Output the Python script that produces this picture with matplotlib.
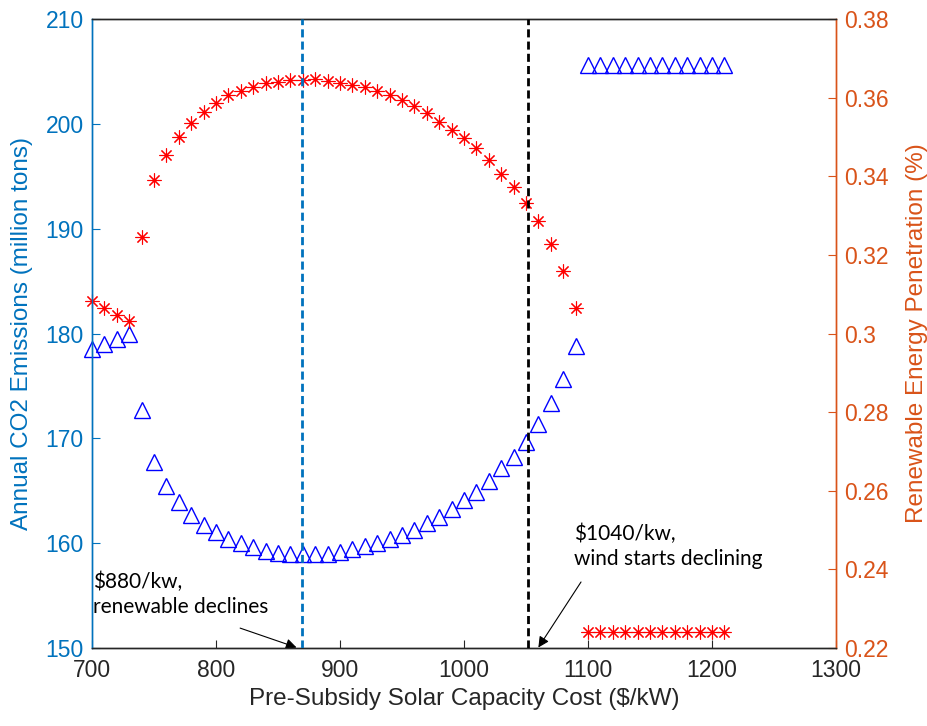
import matplotlib
matplotlib.use("Agg")
import matplotlib.pyplot as plt
from matplotlib.ticker import FuncFormatter

# ---- data ----
cost = [700, 710, 720, 730, 740, 750, 760, 770, 780, 790,
        800, 810, 820, 830, 840, 850, 860, 870, 880, 890,
        900, 910, 920, 930, 940, 950, 960, 970, 980, 990,
        1000, 1010, 1020, 1030, 1040, 1050, 1060, 1070, 1080, 1090,
        1100, 1110, 1120, 1130, 1140, 1150, 1160, 1170, 1180, 1190,
        1200, 1210]

co2 = [178.5, 179.0, 179.5, 180.0, 172.7, 167.7, 165.5, 163.9, 162.7, 161.75,
       161.1, 160.4, 160.0, 159.6, 159.3, 159.1, 159.0, 158.95, 158.95, 159.0,
       159.2, 159.4, 159.7, 160.0, 160.4, 160.8, 161.3, 161.9, 162.5, 163.3,
       164.1, 164.9, 165.9, 167.2, 168.2, 169.7, 171.4, 173.4, 175.7, 178.8,
       205.6, 205.6, 205.6, 205.6, 205.6, 205.6, 205.6, 205.6, 205.6, 205.6,
       205.6, 205.6]

renew = [0.3082, 0.3065, 0.3048, 0.3031, 0.3245, 0.3391, 0.3455, 0.3501, 0.3535, 0.3564,
         0.3586, 0.3606, 0.3617, 0.3628, 0.3636, 0.3641, 0.3644, 0.3645, 0.3647, 0.3642,
         0.3636, 0.3632, 0.3626, 0.3616, 0.3606, 0.3594, 0.3578, 0.3561, 0.3538, 0.3518,
         0.3497, 0.3472, 0.3442, 0.3407, 0.3373, 0.3333, 0.3286, 0.3227, 0.3159, 0.3066,
         0.2242, 0.2242, 0.2242, 0.2242, 0.2242, 0.2242, 0.2242, 0.2242, 0.2242, 0.2242,
         0.2242, 0.2242]

vlines = [869, 1052]
x_ticks = [700, 800, 900, 1000, 1100, 1200, 1300]
left_ticks = [150, 160, 170, 180, 190, 200, 210]
right_ticks = [0.22, 0.24, 0.26, 0.28, 0.30, 0.32, 0.34, 0.36, 0.38]

note1 = "$880/kw,\nrenewable declines"
note2 = "$1040/kw,\nwind starts declining"

# ---- style ----
BLUE = "#0072BD"
ORANGE = "#D95319"
DARK = "#262626"
plt.rcParams["font.family"] = ["Liberation Sans", "DejaVu Sans"]
plt.rcParams["mathtext.default"] = "regular"

fig = plt.figure(figsize=(9.27, 7.26), dpi=100)
ax = fig.add_axes([0.0992, 0.1074, 0.8026, 0.8664])
ax2 = ax.twinx()

ax.plot(cost, co2, linestyle="none", marker="^", markersize=11,
        markerfacecolor="none", markeredgecolor="blue", markeredgewidth=1.0,
        clip_on=False)
ax2.plot(cost, renew, linestyle="none", marker=(8, 2, 0), markersize=10,
         markeredgecolor="red", color="red", markeredgewidth=0.8,
         clip_on=False)

ax.set_xlim(700, 1300)
ax.set_ylim(150, 210)
ax2.set_ylim(0.22, 0.38)
ax.set_xticks(x_ticks)
ax.set_yticks(left_ticks)
ax2.set_yticks(right_ticks)
ax2.yaxis.set_major_formatter(FuncFormatter(lambda v, p: "%g" % round(v, 2)))

fs = 16.5
ax.tick_params(axis="x", direction="in", length=6, labelsize=fs, colors=DARK, pad=8, top=False)
ax.tick_params(axis="y", direction="in", length=6, labelsize=fs, colors=BLUE, pad=6)
ax2.tick_params(axis="y", direction="in", length=6, labelsize=fs, colors=ORANGE, pad=6)

for a in (ax, ax2):
    a.spines["top"].set_color(DARK)
    a.spines["bottom"].set_color(DARK)
    a.spines["left"].set_color(BLUE)
    a.spines["right"].set_color(ORANGE)
    for s in a.spines.values():
        s.set_linewidth(1.0)

ax.set_xlabel("Pre-Subsidy Solar Capacity Cost ($/kW)", fontsize=17.5, color=DARK, labelpad=4)
ax.set_ylabel("Annual CO2 Emissions (million tons)", fontsize=17.5, color=BLUE, labelpad=9)
ax2.set_ylabel("Renewable Energy Penetration (%)", fontsize=17.5, color=ORANGE, labelpad=12)

ax2.axvline(vlines[0], color=BLUE, lw=2, linestyle=(0, (2.9, 1.5)), zorder=5)
ax2.axvline(vlines[1], color="black", lw=2, linestyle=(0, (2.9, 1.5)), zorder=5)

tfont = ["Lato", "DejaVu Sans"]
ax.text(701, 155.1, note1, fontsize=15, family=tfont, color="black",
        ha="left", va="center", linespacing=1.3, zorder=6)
ax.annotate("", xy=(865, 150.05), xytext=(819.5, 151.9),
            arrowprops=dict(arrowstyle="-|>", color="black", lw=0.8,
                            mutation_scale=16, shrinkA=0, shrinkB=0))
ax.text(1088.7, 159.7, note2, fontsize=15, family=tfont, color="black",
        ha="left", va="center", linespacing=1.3, zorder=6)
ax.annotate("", xy=(1060, 150.05), xytext=(1094.4, 156.3),
            arrowprops=dict(arrowstyle="-|>", color="black", lw=0.8,
                            mutation_scale=16, shrinkA=0, shrinkB=0))

fig.savefig("out.png", dpi=100)
